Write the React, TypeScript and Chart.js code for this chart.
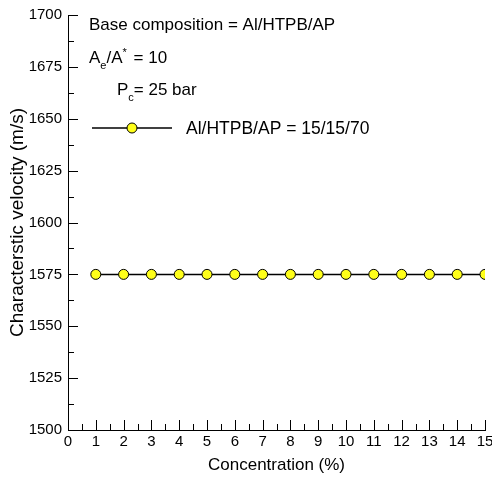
import React, { useEffect, useRef } from "react";
import { Chart, registerables } from "chart.js";

Chart.register(...registerables);

const concentration = [1, 2, 3, 4, 5, 6, 7, 8, 9, 10, 11, 12, 13, 14, 15];
const velocity = [1575, 1575, 1575, 1575, 1575, 1575, 1575, 1575, 1575, 1575, 1575, 1575, 1575, 1575, 1575];
const seriesLabel = "Al/HTPB/AP = 15/15/70";
const xTitle = "Concentration (%)";
const yTitle = "Characterstic velocity (m/s)";
const xMin = 0, xMax = 15, xStep = 1;
const yMin = 1500, yMax = 1700, yStep = 25;

const FONT = "'Liberation Sans', Arial, sans-serif";
const YELLOW = "#ffff1a";

const decorPlugin = {
  id: "decor",
  afterDraw(chart: any) {
    const ctx = chart.ctx;
    const xs = chart.scales.x;
    const ys = chart.scales.y;
    const area = chart.chartArea;
    ctx.save();
    ctx.strokeStyle = "#000";
    ctx.lineWidth = 1;
    for (let v = xMin; v <= xMax + 1e-9; v += xStep / 2) {
      const px = Math.round(xs.getPixelForValue(v)) + 0.5;
      const major = Math.abs(v - Math.round(v)) < 1e-9;
      const len = major ? 10 : 6;
      ctx.beginPath();
      ctx.moveTo(px, area.bottom);
      ctx.lineTo(px, area.bottom - len);
      ctx.stroke();
    }
    for (let v = yMin; v <= yMax + 1e-9; v += yStep / 2) {
      const py = Math.round(ys.getPixelForValue(v)) + 0.5;
      const major = Math.abs((v - yMin) / yStep - Math.round((v - yMin) / yStep)) < 1e-9;
      const len = major ? 10 : 6;
      ctx.beginPath();
      ctx.moveTo(area.left, py);
      ctx.lineTo(area.left + len, py);
      ctx.stroke();
    }
    ctx.fillStyle = "#000";
    ctx.textBaseline = "alphabetic";
    ctx.textAlign = "left";
    const big = `17px ${FONT}`;
    const small = `11px ${FONT}`;
    ctx.font = big;
    ctx.fillText("Base composition = Al/HTPB/AP", 89, 30);
    let x = 89;
    ctx.font = big;
    ctx.fillText("A", x, 63);
    x += ctx.measureText("A").width;
    ctx.font = small;
    ctx.fillText("e", x, 69);
    x += ctx.measureText("e").width;
    ctx.font = big;
    ctx.fillText("/A", x, 63);
    x += ctx.measureText("/A").width;
    ctx.font = small;
    ctx.fillText("*", x, 56);
    x += ctx.measureText("*").width + 2;
    ctx.font = big;
    ctx.fillText(" = 10", x, 63);
    x = 117;
    ctx.fillText("P", x, 95);
    x += ctx.measureText("P").width;
    ctx.font = small;
    ctx.fillText("c", x, 101);
    x += ctx.measureText("c").width;
    ctx.font = big;
    ctx.fillText("= 25 bar", x, 95);
    ctx.lineWidth = 1.5;
    ctx.beginPath();
    ctx.moveTo(92, 128);
    ctx.lineTo(172, 128);
    ctx.stroke();
    ctx.beginPath();
    ctx.arc(132, 128, 5, 0, Math.PI * 2);
    ctx.fillStyle = YELLOW;
    ctx.fill();
    ctx.lineWidth = 1;
    ctx.stroke();
    ctx.fillStyle = "#000";
    ctx.font = `17.5px ${FONT}`;
    ctx.fillText(seriesLabel, 186, 134);
    ctx.restore();
  },
};

export default function App() {
  const ref = useRef<HTMLCanvasElement | null>(null);
  useEffect(() => {
    document.body.style.margin = "0";
    if (!ref.current) return;
    const chart = new Chart(ref.current, {
      type: "line",
      data: {
        datasets: [
          {
            label: seriesLabel,
            data: concentration.map((c, i) => ({ x: c, y: velocity[i] })),
            borderColor: "#000",
            borderWidth: 1.5,
            pointRadius: 5,
            pointBackgroundColor: YELLOW,
            pointBorderColor: "#000",
            pointBorderWidth: 1,
            tension: 0,
          },
        ],
      },
      options: {
        animation: false,
        responsive: false,
        maintainAspectRatio: false,
        layout: { padding: { top: 15, right: 7, left: 0, bottom: 0 } },
        plugins: { legend: { display: false }, tooltip: { enabled: false } },
        scales: {
          x: {
            type: "linear",
            min: xMin,
            max: xMax,
            afterFit(scale: any) {
              scale.height = 47;
              scale.paddingLeft = 0;
              scale.paddingRight = 0;
            },
            ticks: {
              stepSize: xStep,
              color: "#000",
              padding: 3,
              maxRotation: 0,
              autoSkip: false,
              font: { family: FONT, size: 15 },
              callback: (v: any) => String(v),
            },
            grid: { drawOnChartArea: false, drawTicks: false },
            border: { display: true, color: "#000", width: 1 },
            title: {
              display: true,
              text: xTitle,
              color: "#000",
              font: { family: FONT, size: 17 },
              padding: { top: 0, bottom: 1 },
            },
          },
          y: {
            type: "linear",
            min: yMin,
            max: yMax,
            afterFit(scale: any) {
              scale.width = 68;
            },
            ticks: {
              stepSize: yStep,
              color: "#000",
              padding: 6,
              font: { family: FONT, size: 15 },
              callback: (v: any) => String(v),
            },
            grid: { drawOnChartArea: false, drawTicks: false },
            border: { display: true, color: "#000", width: 1 },
            title: {
              display: true,
              text: yTitle,
              color: "#000",
              font: { family: FONT, size: 19 },
              padding: { top: 6, bottom: 0 },
            },
          },
        },
      },
      plugins: [decorPlugin],
    });
    return () => chart.destroy();
  }, []);
  return (
    <div style={{ width: 492, height: 477, overflow: "hidden" }}>
      <canvas ref={ref} width={492} height={477} style={{ display: "block", width: 492, height: 477 }} />
    </div>
  );
}
